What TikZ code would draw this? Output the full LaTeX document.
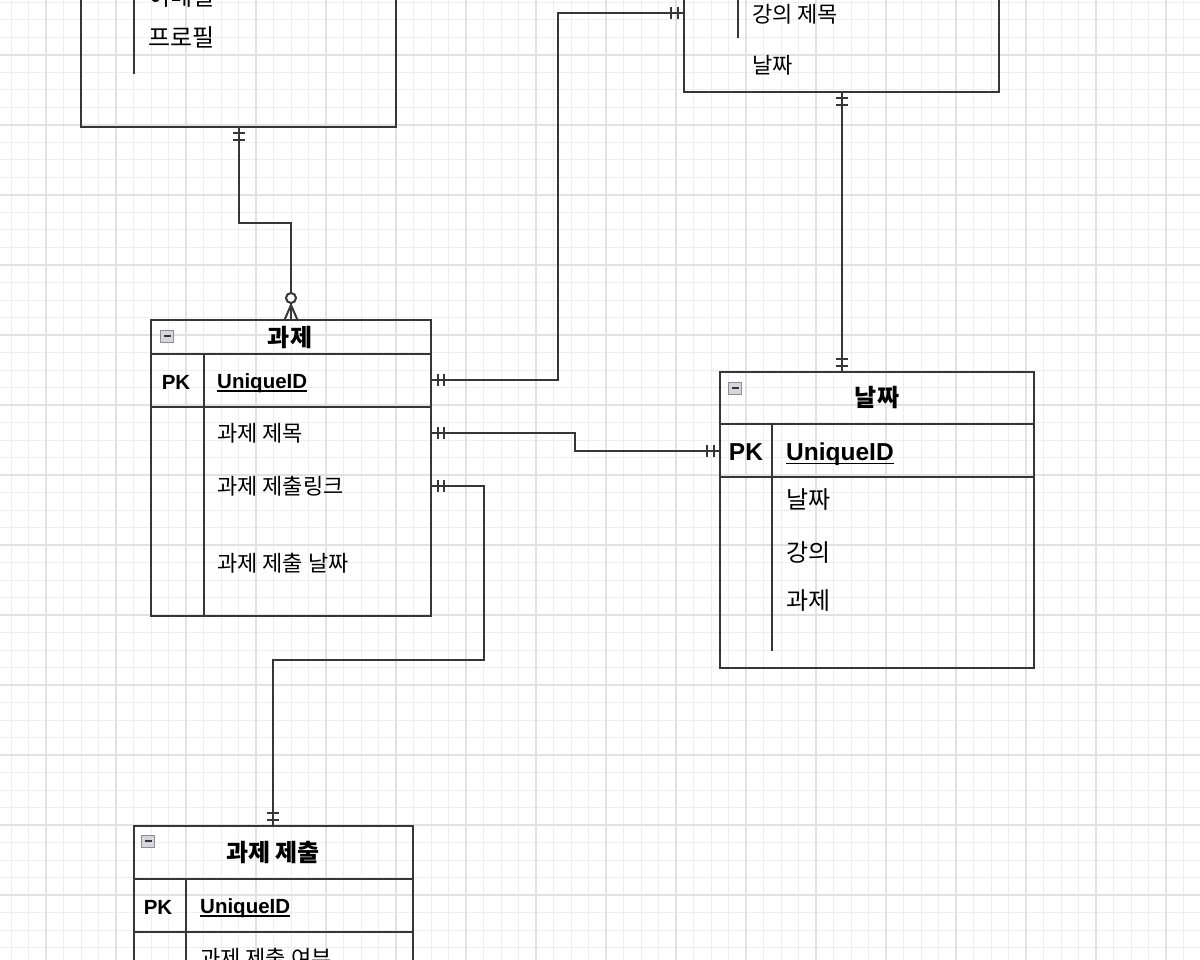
\documentclass[tikz,border=0pt]{standalone}
\usepackage{fontspec}
\setmainfont{Liberation Sans}
\newfontfamily\kr{Noto Sans CJK KR}
\usetikzlibrary{decorations.markings}

\definecolor{ink}{HTML}{363636}
\definecolor{gridminor}{HTML}{EEEEEE}
\definecolor{gridmajor}{HTML}{E2E2E2}
\definecolor{iconfill}{HTML}{D6D6DC}
\definecolor{iconedge}{HTML}{8C8C96}

\tikzset{
  entity/.style={draw=ink, line width=2.4pt, anchor=north west, inner sep=0pt, outer sep=0pt},
  rowrule/.style={draw=ink, line width=2.4pt},
  colrule/.style={draw=ink, line width=2pt},
  titleS/.style={inner sep=0pt, font=\kr\bfseries\fontsize{24}{28}\selectfont},
  fieldS/.style={anchor=west, inner sep=0pt, font=\kr\fontsize{22}{26}\selectfont},
  fieldL/.style={anchor=west, inner sep=0pt, font=\kr\fontsize{24}{28}\selectfont},
  keyS/.style={inner sep=0pt, font=\bfseries\fontsize{20.5}{24}\selectfont},
  keyL/.style={inner sep=0pt, font=\bfseries\fontsize{24.5}{28}\selectfont},
  keyline/.style={draw=black, line width=1.6pt},
  collapse/.style={draw=iconedge, fill=iconfill, line width=1pt, minimum width=13pt,
    minimum height=12pt, inner sep=0pt,
    path picture={\draw[ink, line width=1.2pt]
      ([xshift=-3.5pt]path picture bounding box.center) --
      ([xshift=3.5pt]path picture bounding box.center);}},
  relation/.style={draw=ink, line width=2.4pt},
  bars at start/.style={postaction={decorate, decoration={markings,
    mark=at position 6.5pt with {\draw[ink, line width=2pt] (0pt,-6pt) -- (0pt,6pt);},
    mark=at position 13pt with {\draw[ink, line width=2pt] (0pt,-6pt) -- (0pt,6pt);}}}},
  bars at end/.style={postaction={decorate, decoration={markings,
    mark=at position -13pt with {\draw[ink, line width=2pt] (0pt,-6pt) -- (0pt,6pt);},
    mark=at position -6.5pt with {\draw[ink, line width=2pt] (0pt,-6pt) -- (0pt,6pt);}}}},
  many at end/.style={postaction={decorate, decoration={markings,
    mark=at position -22pt with {\draw[ink, line width=2pt, fill=white] (0pt,0pt) circle (5pt);},
    mark=at position -15pt with {\draw[ink, line width=2pt] (15pt,6.5pt) -- (0pt,0pt) -- (15pt,-6.5pt);}}}},
}

\begin{document}
\begin{tikzpicture}[x=1pt, y=-1pt]
\useasboundingbox (0,0) rectangle (1200,960);
\clip (0,0) rectangle (1200,960);
\fill[white] (0,0) rectangle (1200,960);

% background grid
\foreach \k in {0,...,68} {
  \draw[gridminor, line width=1pt] ({11+17.5*\k},0) -- ({11+17.5*\k},960);
}
\foreach \k in {0,...,55} {
  \draw[gridminor, line width=1pt] (0,{2.5+17.5*\k}) -- (1200,{2.5+17.5*\k});
}
\foreach \k in {0,...,18} {
  \draw[gridmajor, line width=1.1pt] ({-24+70*\k},0) -- ({-24+70*\k},960);
}
\foreach \k in {0,...,14} {
  \draw[gridmajor, line width=1.1pt] (0,{-15+70*\k}) -- (1200,{-15+70*\k});
}

% ---- user table (top left) ----
\node[entity, minimum width=315pt, minimum height=227pt] (user) at (81,-100) {};
\draw[colrule] (134,-100) -- (134,74);
\node[fieldL] (uEmail) at (148,-3) {이메일};
\node[fieldL] (uProfile) at (148,37) {프로필};

% ---- lecture table (top right) ----
\node[entity, minimum width=315pt, minimum height=192pt] (lecture) at (684,-100) {};
\draw[colrule] (738,-100) -- (738,38);
\node[fieldS] (lTitle) at (752,14) {강의 제목};
\node[fieldS] (lDate) at (752,65) {날짜};

% ---- assignment table ----
\node[entity, minimum width=280pt, minimum height=296pt] (task) at (151,320) {};
\draw[rowrule] (151,354) -- (431,354);
\draw[rowrule] (151,407) -- (431,407);
\draw[colrule] (204,354) -- (204,616);
\node[collapse] (taskIcon) at (167,336) {};
\node[titleS] (taskTitle) at (290,337) {과제};
\node[keyS] (taskPK) at (176,382) {PK};
\node[keyS, anchor=west] (taskId) at (217,383) {UniqueID};
\draw[keyline] ([yshift=-2.5pt]taskId.base west) -- ([yshift=-2.5pt]taskId.base east);
\node[fieldS] (taskName) at (217,433) {과제 제목};
\node[fieldS] (taskLink) at (217,486) {과제 제출링크};
\node[fieldS] (taskDue) at (217,563) {과제 제출 날짜};

% ---- date table ----
\node[entity, minimum width=314pt, minimum height=296pt] (date) at (720,372) {};
\draw[rowrule] (720,424) -- (1034,424);
\draw[rowrule] (720,477) -- (1034,477);
\draw[colrule] (772,424) -- (772,651);
\node[collapse] (dateIcon) at (735,388) {};
\node[titleS] (dateTitle) at (877,398) {날짜};
\node[keyL] (datePK) at (746,452) {PK};
\node[keyL, anchor=west] (dateId) at (786,454) {UniqueID};
\draw[keyline] ([yshift=-3pt]dateId.base west) -- ([yshift=-3pt]dateId.base east);
\node[fieldL] (dateDay) at (786,500) {날짜};
\node[fieldL] (dateLec) at (786,553) {강의};
\node[fieldL] (dateTask) at (786,601) {과제};

% ---- submission table ----
\node[entity, minimum width=279pt, minimum height=274pt] (submit) at (134,826) {};
\draw[rowrule] (134,879) -- (413,879);
\draw[rowrule] (134,932) -- (413,932);
\draw[colrule] (186,879) -- (186,1100);
\node[collapse] (submitIcon) at (148,841) {};
\node[titleS] (submitTitle) at (273,852) {과제 제출};
\node[keyS] (submitPK) at (158,907) {PK};
\node[keyS, anchor=west] (submitId) at (200,908) {UniqueID};
\draw[keyline] ([yshift=-2.5pt]submitId.base west) -- ([yshift=-2.5pt]submitId.base east);
\node[fieldS] (submitDone) at (200,958) {과제 제출 여부};

% ---- connection points on the table edges ----
\coordinate (userBottom) at (239,127);
\coordinate (taskTop) at (291,320);
\coordinate (taskIdPort) at (431,380);
\coordinate (taskNamePort) at (431,433);
\coordinate (taskLinkPort) at (431,486);
\coordinate (lectureSide) at (684,13);
\coordinate (lectureBottom) at (842,92);
\coordinate (dateTop) at (842,372);
\coordinate (datePkPort) at (720,451);
\coordinate (submitTop) at (273,826);

% ---- relationships ----
\draw[relation, bars at start, many at end]
  (userBottom) -- ++(0,96) -| (taskTop);
\draw[relation, bars at start, bars at end]
  (taskIdPort) -- ++(127,0) |- (lectureSide);
\draw[relation, bars at start, bars at end]
  (lectureBottom) -- (dateTop);
\draw[relation, bars at start, bars at end]
  (taskNamePort) -- ++(144,0) |- (datePkPort);
\draw[relation, bars at start, bars at end]
  (taskLinkPort) -- ++(53,0) -- ++(0,174) -| (submitTop);
\end{tikzpicture}
\end{document}
